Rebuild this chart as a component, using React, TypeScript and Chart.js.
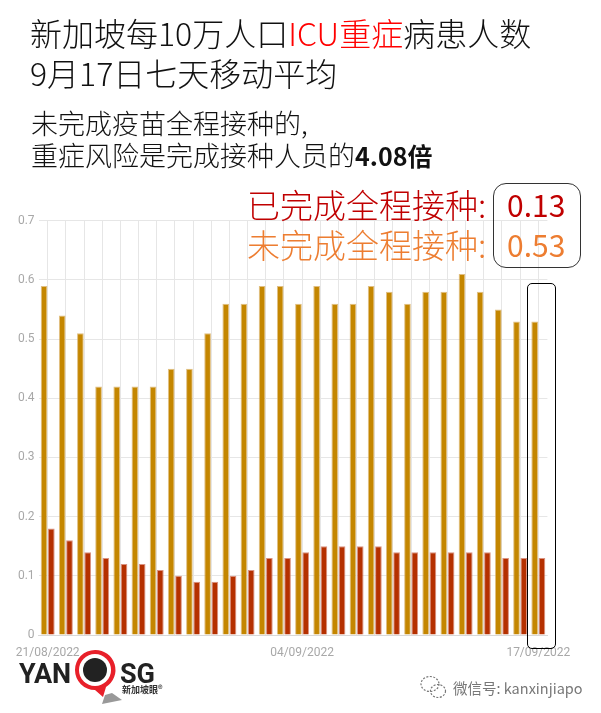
import React, { useEffect, useRef } from "react";
import { Chart, registerables } from "chart.js";

Chart.register(...registerables);

const dates = [
  "21/08/2022","22/08/2022","23/08/2022","24/08/2022","25/08/2022","26/08/2022","27/08/2022",
  "28/08/2022","29/08/2022","30/08/2022","31/08/2022","01/09/2022","02/09/2022","03/09/2022",
  "04/09/2022","05/09/2022","06/09/2022","07/09/2022","08/09/2022","09/09/2022","10/09/2022",
  "11/09/2022","12/09/2022","13/09/2022","14/09/2022","15/09/2022","16/09/2022","17/09/2022",
];
const unvaccinated = [
  0.59,0.54,0.51,0.42,0.42,0.42,0.42,0.45,0.45,0.51,0.56,0.56,0.59,0.59,
  0.56,0.59,0.56,0.56,0.59,0.58,0.56,0.58,0.58,0.61,0.58,0.55,0.53,0.53,
];
const vaccinated = [
  0.18,0.16,0.14,0.13,0.12,0.12,0.11,0.10,0.09,0.09,0.10,0.11,0.13,0.13,
  0.14,0.15,0.15,0.15,0.15,0.14,0.14,0.14,0.14,0.14,0.14,0.13,0.13,0.13,
];
const labelledDates = ["21/08/2022", "04/09/2022", "17/09/2022"];

const CJK = '"Noto Sans CJK SC", "Noto Sans", sans-serif';
const text = (left: number, centerY: number, size: number, color: string, extra: React.CSSProperties = {}): React.CSSProperties => ({
  position: "absolute", left, top: centerY - size, height: size * 2, lineHeight: `${size * 2}px`,
  fontSize: size, color, fontFamily: CJK, whiteSpace: "nowrap", fontWeight: 300, ...extra,
});

export default function App() {
  const ref = useRef<HTMLCanvasElement>(null);
  useEffect(() => {
    const chart = new Chart(ref.current!, {
      type: "bar",
      data: {
        labels: dates,
        datasets: [
          { label: "未完成全程接种", data: unvaccinated, backgroundColor: "#c48600", borderColor: "rgba(214,170,90,0.75)", borderWidth: 1, categoryPercentage: 0.8, barPercentage: 0.92 },
          { label: "已完成全程接种", data: vaccinated, backgroundColor: "#b53000", borderColor: "rgba(205,110,85,0.75)", borderWidth: 1, categoryPercentage: 0.8, barPercentage: 0.92 },
        ],
      },
      options: {
        responsive: false,
        animation: false,
        layout: { padding: { left: 0, top: 220.8, right: 53.6, bottom: 48 } },
        plugins: { legend: { display: false }, tooltip: { enabled: false } },
        scales: {
          x: {
            afterFit: (s: any) => { s.height = 30; },
            grid: { color: "#e6e6e6", offset: false, drawTicks: false },
            border: { color: "#d8d8d8" },
            ticks: {
              autoSkip: false, maxRotation: 0, padding: 11, color: "#a8a8a8",
              font: { family: "Roboto", size: 12 },
              callback(this: any, _v: any, i: number) {
                const l = dates[i];
                return labelledDates.includes(l) ? l : "";
              },
            },
          },
          y: {
            min: 0, max: 0.7,
            afterFit: (s: any) => { s.width = 38.6; },
            grid: { color: "#e6e6e6", drawTicks: false },
            border: { display: false },
            ticks: {
              stepSize: 0.1, padding: 4, color: "#a8a8a8",
              font: { family: "Roboto", size: 12 },
              callback: (v: any) => (Number(v) === 0 ? "0" : Number(v).toFixed(1)),
            },
          },
        },
      },
    });
    return () => chart.destroy();
  }, []);

  return (
    <div style={{ position: "absolute", left: 0, top: 0, width: 601, height: 713, background: "#fff", overflow: "hidden" }}>
      <canvas ref={ref} width={601} height={713} style={{ position: "absolute", left: 0, top: 0 }} />

      <div style={text(30, 32, 32, "#111")}>新加坡每10万人口<span style={{ color: "#ff0000" }}>ICU重症</span>病患人数</div>
      <div style={text(30, 72, 32, "#111")}>9月17日七天移动平均</div>
      <div style={text(31, 123, 27, "#111")}>未完成疫苗全程接种的,</div>
      <div style={text(31, 155, 27, "#111")}>重症风险是完成接种人员的<b style={{ fontWeight: 700, fontSize: 25 }}>4.08倍</b></div>

      <div style={text(247, 204, 33, "#c00000")}>已完成全程接种:</div>
      <div style={text(247, 244, 33, "#ed7d31")}>未完成全程接种:</div>
      <div style={text(507, 204, 30, "#c00000", { fontWeight: 400 })}>0.13</div>
      <div style={text(507, 244, 30, "#ed7d31", { fontWeight: 400 })}>0.53</div>

      <div style={{ position: "absolute", left: 493, top: 183, width: 88, height: 85, boxSizing: "border-box", border: "1.5px solid #333", borderRadius: 13 }} />
      <div style={{ position: "absolute", left: 527, top: 283, width: 29, height: 366, boxSizing: "border-box", border: "1.5px solid #000", borderRadius: 5 }} />

      <svg width={601} height={713} style={{ position: "absolute", left: 0, top: 0 }}>
        <path d="M95 650 a20 20 0 0 1 11 37 l-3 10 l-8 -7 a20 20 0 1 1 0 -40z" fill="#e8202a" />
        <circle cx={95} cy={670} r={16} fill="#fff" />
        <circle cx={95} cy={670} r={12} fill="#222" />
        <path d="M102 704 l20 -4 l-10 -7 l-7 2z" fill="#999" />
        <g fill="none" stroke="#777" strokeWidth={1.2} strokeDasharray="2 1.5">
          <ellipse cx={430} cy={684} rx={9} ry={7.5} />
          <ellipse cx={438} cy={691} rx={7.5} ry={6.5} />
        </g>
      </svg>
      <div style={text(19, 674, 27, "#222", { fontFamily: "Roboto", fontWeight: 700 })}>YAN</div>
      <div style={text(120, 674, 27, "#222", { fontFamily: "Roboto", fontWeight: 700 })}>SG</div>
      <div style={text(122, 690, 9, "#333", { fontWeight: 700 })}>新加坡眼®</div>
      <div style={text(453, 687, 14.5, "#777", { fontWeight: 400 })}>微信号: kanxinjiapo</div>
    </div>
  );
}
